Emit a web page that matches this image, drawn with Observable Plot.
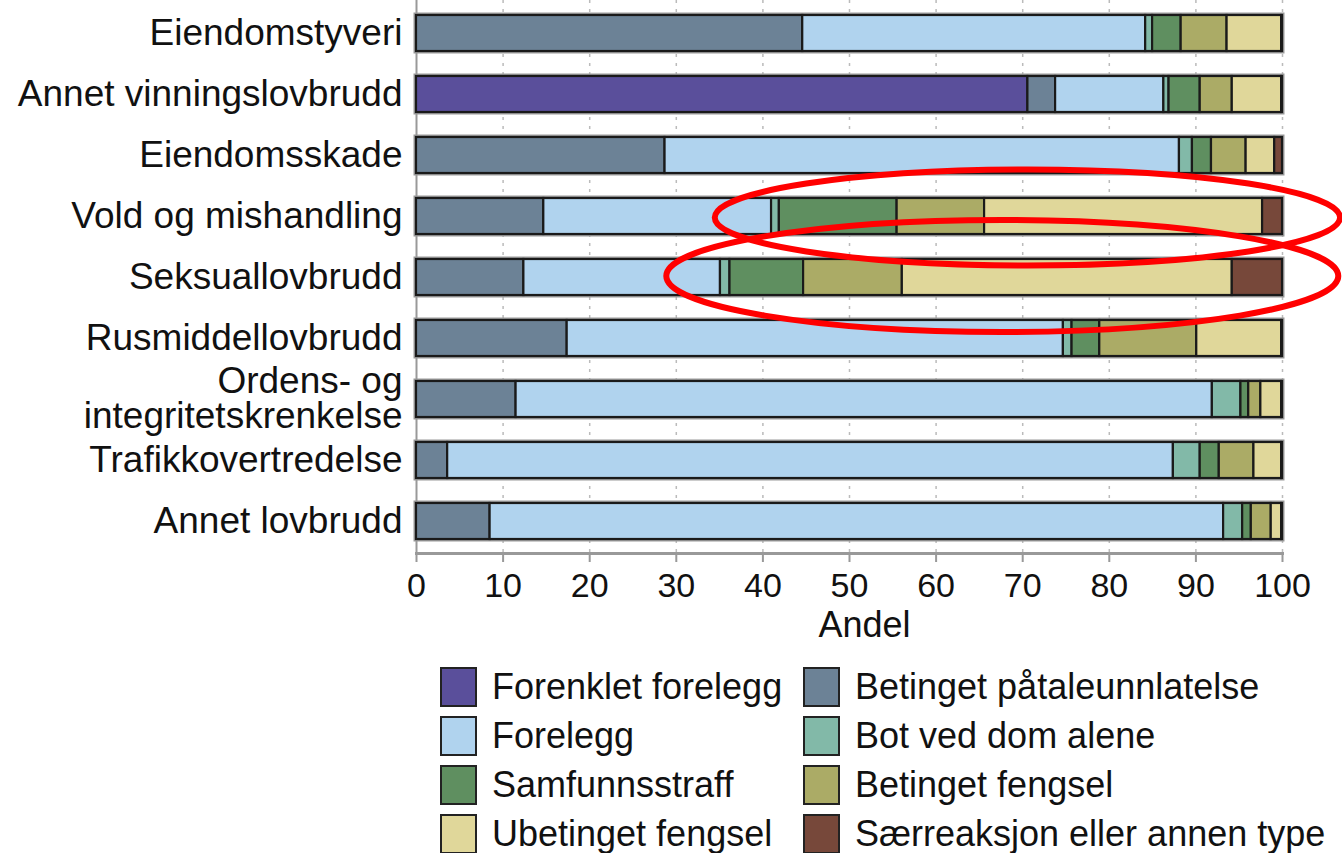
<!DOCTYPE html>
<html>
<head>
<meta charset="utf-8">
<script src="https://cdn.jsdelivr.net/npm/d3@7"></script>
<script src="https://cdn.jsdelivr.net/npm/@observablehq/plot@0.6"></script>
<style>
  body { margin: 0; background: #fff; font-family: "Liberation Sans", Arial, Helvetica, sans-serif; color: #111; }
  #legend { display: grid; grid-template-columns: 363px auto; margin-left: 440px; margin-top: 17px; }
  .item { display: flex; align-items: center; height: 49px; font-size: 36px; white-space: nowrap; }
  .sw { width: 33px; height: 36px; border: 2px solid #222; box-sizing: content-box; margin-right: 15px; flex: none; }
</style>
</head>
<body>
<div id="chart"></div>
<div id="legend"></div>
<script>
const categories = [
  "Eiendomstyveri",
  "Annet vinningslovbrudd",
  "Eiendomsskade",
  "Vold og mishandling",
  "Seksuallovbrudd",
  "Rusmiddellovbrudd",
  "Ordens- og\nintegritetskrenkelse",
  "Trafikkovertredelse",
  "Annet lovbrudd"
];
const types = [
  "Forenklet forelegg",
  "Betinget påtaleunnlatelse",
  "Forelegg",
  "Bot ved dom alene",
  "Samfunnsstraff",
  "Betinget fengsel",
  "Ubetinget fengsel",
  "Særreaksjon eller annen type"
];
const colors = ["#5a4f9b", "#6c8296", "#b0d3ee", "#82b9a8", "#5f8f60", "#abab66", "#e0d79a", "#77483a"];

const forenkletForelegg   = [0, 70.6, 0, 0, 0, 0, 0, 0, 0];
const betingetPataleunnl  = [44.6, 3.2, 28.7, 14.7, 12.4, 17.4, 11.5, 3.6, 8.5];
const forelegg            = [39.6, 12.5, 59.4, 26.3, 22.7, 57.3, 80.4, 83.8, 84.7];
const botVedDomAlene      = [0.8, 0.6, 1.5, 0.9, 1.1, 1.0, 3.3, 3.1, 2.2];
const samfunnsstraff      = [3.3, 3.6, 2.2, 13.6, 8.5, 3.2, 0.9, 2.2, 1.0];
const betingetFengsel     = [5.3, 3.7, 4.0, 10.1, 11.4, 11.2, 1.4, 4.0, 2.3];
const ubetingetFengsel    = [6.3, 5.7, 3.3, 32.1, 38.1, 9.8, 2.4, 3.2, 1.2];
const saerreaksjon        = [0.1, 0.1, 0.9, 2.3, 5.8, 0.1, 0.1, 0.1, 0.1];

const xTicks = [0, 10, 20, 30, 40, 50, 60, 70, 80, 90, 100];

// Annotation ellipses (centre in data units, radii in share units / px)
const annotRows = ["Vold og mishandling", "Seksuallovbrudd"];
const annotCx = [70.6, 67.7];
const annotRx = [36.1, 38.8];
const annotRy = [48, 56];
const annotDy = [1.5, -1];

const series = [forenkletForelegg, betingetPataleunnl, forelegg, botVedDomAlene,
                samfunnsstraff, betingetFengsel, ubetingetFengsel, saerreaksjon];
const long = [];
types.forEach((t, i) => categories.forEach((c, j) => {
  if (series[i][j] > 0) long.push({category: c, type: t, value: series[i][j]});
}));
const totals = categories.map((c, j) => ({category: c, total: d3.sum(series, s => s[j])}));

const plot = Plot.plot({
  width: 1342,
  height: 645,
  marginLeft: 416,
  marginRight: 60,
  marginTop: 0,
  marginBottom: 92,
  style: {fontFamily: '"Liberation Sans", Arial, Helvetica, sans-serif', fontSize: "36px", color: "#111", overflow: "visible"},
  x: {domain: [0, 100], label: null},
  y: {domain: categories, paddingInner: 0.41, paddingOuter: 0.205, label: null},
  color: {domain: types, range: colors},
  marks: [
    Plot.gridX(xTicks.slice(1), {stroke: "#bbb", strokeOpacity: 1, strokeDasharray: "3,6", strokeWidth: 1.5}),
    Plot.ruleX([0], {stroke: "#999", strokeWidth: 2}),
    Plot.barX(totals, {x: "total", y: "category", stroke: "#999", strokeWidth: 5, fill: "none"}),
    Plot.barX(long, Plot.stackX({x: "value", y: "category", fill: "type", order: types, stroke: "#1a1a1a", strokeWidth: 2.2})),
    Plot.frame({anchor: "bottom", stroke: "#999", strokeWidth: 3}),
    Plot.axisX({ticks: xTicks, tickSize: 9, tickPadding: 10, fontSize: 34, stroke: "#999", strokeWidth: 2, label: null}),
    Plot.axisY({tickSize: 0, tickPadding: 14, fontSize: 37, lineHeight: 0.95, label: null}),
    Plot.text(["Andel"], {frameAnchor: "bottom", lineAnchor: "middle", dy: 72, dx: 15, fontSize: 36, fill: "#111"})
  ]
});
document.getElementById("chart").appendChild(plot);

// Red annotation ellipses using the plot's scales
const xs = plot.scale("x"), ys = plot.scale("y");
const svg = d3.select(plot);
annotRows.forEach((r, i) => {
  const cx = xs.apply(annotCx[i]);
  const rx = xs.apply(annotCx[i] + annotRx[i]) - cx;
  const cy = ys.apply(r) + ys.bandwidth / 2 + annotDy[i];
  svg.append("ellipse")
    .attr("cx", cx).attr("cy", cy).attr("rx", rx).attr("ry", annotRy[i])
    .attr("fill", "none").attr("stroke", "#ff0000").attr("stroke-width", 6);
});

// Legend
const leg = d3.select("#legend");
types.forEach((t, i) => {
  const it = leg.append("div").attr("class", "item");
  it.append("div").attr("class", "sw").style("background", colors[i]);
  it.append("span").text(t);
});
</script>
</body>
</html>
